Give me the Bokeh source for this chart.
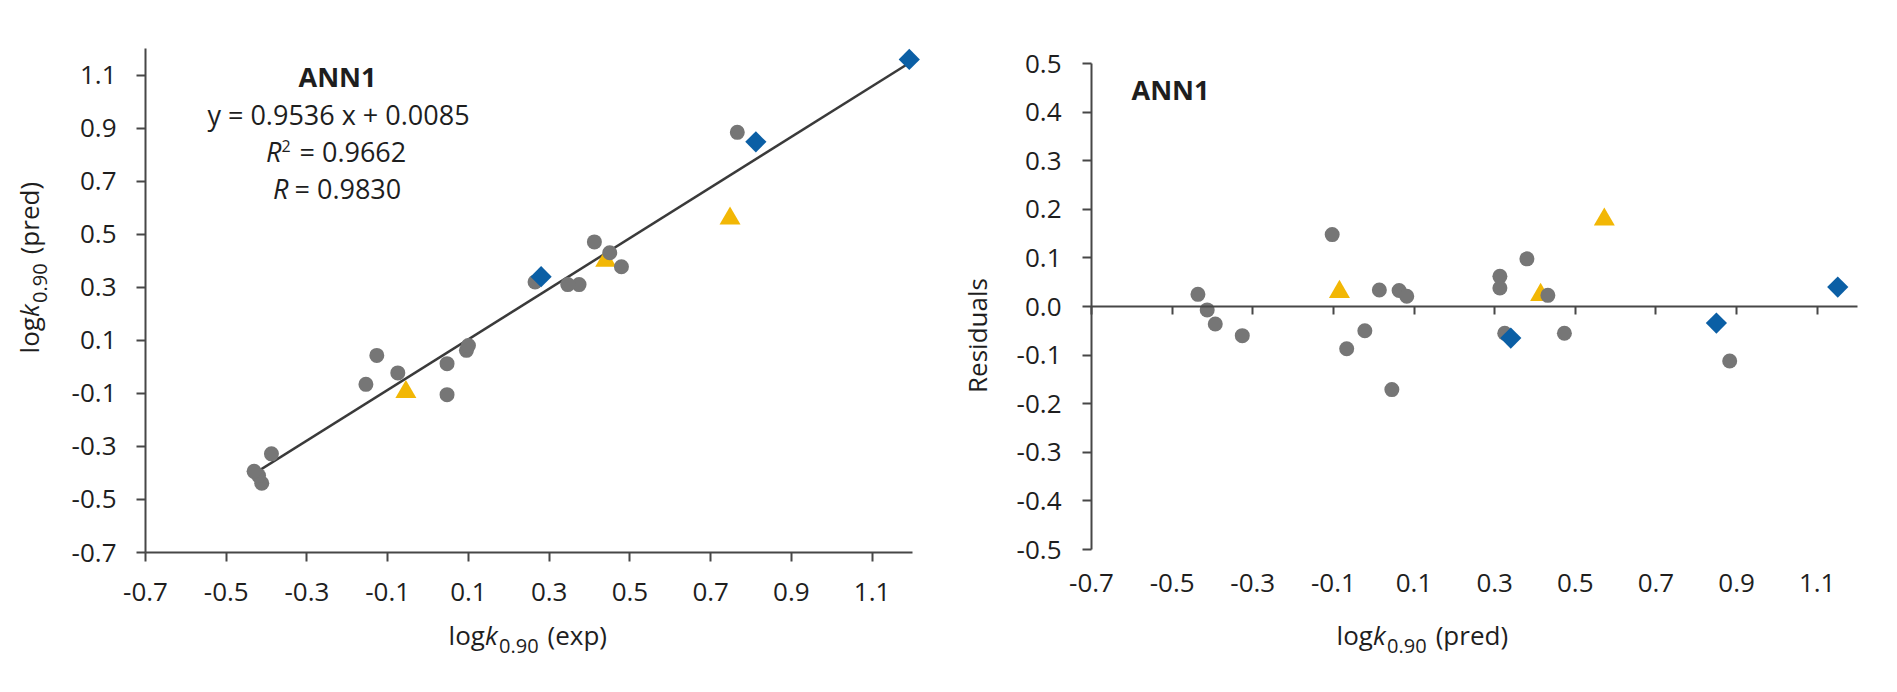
import math
from bokeh.plotting import figure
from bokeh.models import (Range1d, FixedTicker, PrintfTickFormatter, LinearAxis, Label,
                          CustomJSTickFormatter)
from bokeh.layouts import row
from bokeh.embed import file_html
from bokeh.resources import INLINE

# ---------------- data ----------------
x_ticks = [-0.7, -0.5, -0.3, -0.1, 0.1, 0.3, 0.5, 0.7, 0.9, 1.1]
pred_ticks = [-0.7, -0.5, -0.3, -0.1, 0.1, 0.3, 0.5, 0.7, 0.9, 1.1]
resid_ticks = [-0.5, -0.4, -0.3, -0.2, -0.1, 0.0, 0.1, 0.2, 0.3, 0.4, 0.5]

# left panel: experimental vs predicted logk0.90
grey_exp = [-0.412, -0.42, -0.431, -0.388, 0.047, -0.154, -0.075, 0.047, 0.095, 0.10,
            -0.127, 0.374, 0.346, 0.479, 0.45, 0.265, 0.412, 0.766]
grey_pred = [-0.439, -0.41, -0.394, -0.328, -0.105, -0.066, -0.023, 0.012, 0.062, 0.08,
             0.043, 0.31, 0.31, 0.377, 0.43, 0.32, 0.471, 0.884]
yellow_exp = [-0.055, 0.44, 0.748]
yellow_pred = [-0.095, 0.40, 0.559]
blue_exp = [0.28, 0.812, 1.192]
blue_pred = [0.34, 0.848, 1.159]

fit_slope = 0.9536
fit_intercept = 0.0085
fit_r2 = 0.9662
fit_r = 0.9830
fit_x = [-0.43, 1.19]

# right panel: predicted vs residuals
res_grey_pred = [-0.436, -0.413, -0.393, -0.326, -0.103, -0.067, -0.022, 0.014, 0.063, 0.082,
                 0.045, 0.313, 0.313, 0.38, 0.432, 0.325, 0.473, 0.883]
res_grey_val = [0.025, -0.007, -0.036, -0.060, 0.148, -0.087, -0.050, 0.034, 0.033, 0.021,
                -0.171, 0.062, 0.038, 0.098, 0.023, -0.055, -0.055, -0.112]
res_yellow_pred = [-0.085, 0.414, 0.572]
res_yellow_val = [0.030, 0.024, 0.179]
res_blue_pred = [0.34, 0.85, 1.151]
res_blue_val = [-0.065, -0.034, 0.040]

panel_title = "ANN1"

# ---------------- style ----------------
FONT = "Open Sans"
TXT = "#1e1e1e"
AX = "#474747"
GREY = "#767676"
BLUE = "#0B5FA5"
YELLOW = "#F2B705"
TICK_FS = "26px"
H = 670
PAGE_TOP = 0


def make_map(fx0, fx1, xd0, xd1, fy0, fy1, yd0, yd1):
    """page-pixel -> data mapping; (fx0..fx1, fy0..fy1) is the plotting area in page px."""
    def f(px, py):
        x = xd0 + (px - fx0) / (fx1 - fx0) * (xd1 - xd0)
        y = yd1 - (py - fy0) / (fy1 - fy0) * (yd1 - yd0)
        return x, y
    return f


def new_fig(width, fmap, fig_left):
    x0, y1 = fmap(fig_left, PAGE_TOP)
    x1, y0 = fmap(fig_left + width, PAGE_TOP + H)
    p = figure(width=width, height=H, output_backend="svg", toolbar_location=None,
               x_range=Range1d(x0, x1), y_range=Range1d(y0, y1),
               x_axis_location=None, y_axis_location=None, min_border=0)
    p.title.visible = False
    p.outline_line_color = None
    p.grid.visible = False
    p.background_fill_color = "white"
    p.border_fill_color = "white"
    return p


def add_axis(p, side, loc, bounds, ticks, standoff, tick_out=9, show_line=True, show_labels=True):
    ax = LinearAxis(fixed_location=loc, bounds=bounds)
    ax.ticker = FixedTicker(ticks=ticks)
    if show_labels:
        ax.formatter = PrintfTickFormatter(format="%.1f")
    else:
        ax.formatter = CustomJSTickFormatter(code="return ''")
    ax.axis_line_color = AX if show_line else None
    ax.axis_line_width = 2
    ax.major_tick_line_color = AX if tick_out > 0 else None
    ax.major_tick_line_width = 2
    ax.major_tick_out = tick_out
    ax.major_tick_in = 0
    ax.minor_tick_line_color = None
    ax.major_label_text_font = FONT
    ax.major_label_text_font_size = TICK_FS
    ax.major_label_text_color = TXT
    ax.major_label_standoff = standoff
    p.add_layout(ax, side)
    return ax


def put(p, fmap, px, py, text, size=26, style="normal", align="left", angle=0.0):
    # empirical correction: the rendered baseline sits ~0.4 em below the anchor
    off = 0.4 * size
    if angle == 0.0:
        py -= off
    else:
        px -= off
    x, y = fmap(px, py)
    p.add_layout(Label(x=x, y=y, text=text, text_font=FONT, text_font_size=f"{size}px",
                       text_font_style=style, text_color=TXT, text_align=align,
                       text_baseline="alphabetic", angle=angle))


A = math.pi / 2

# ---------------- left panel ----------------
W1 = 960
L0 = 0
lmap = make_map(145, 912, -0.7, 1.2, 48, 552, -0.7, 1.2)
p1 = new_fig(W1, lmap, L0)
add_axis(p1, "below", -0.7, (-0.7, 1.2), x_ticks, standoff=21)
add_axis(p1, "left", -0.7, (-0.7, 1.2), pred_ticks, standoff=20)

fit_y = [fit_slope * v + fit_intercept for v in fit_x]
p1.line(fit_x, fit_y, line_color="#3a3a3a", line_width=2.5)
p1.scatter(yellow_exp, yellow_pred, marker="triangle", size=21, fill_color=YELLOW, line_color=None)
p1.scatter(grey_exp, grey_pred, marker="circle", size=15, fill_color=GREY, line_color=None)
p1.scatter(blue_exp, blue_pred, marker="square", angle=math.pi / 4, size=15,
           fill_color=BLUE, line_color=None)

put(p1, lmap, 337, 86.5, panel_title, 27, "bold", "center")
put(p1, lmap, 338, 125, f"y = {fit_slope:.4f} x + {fit_intercept:.4f}", 27, "normal", "center")
put(p1, lmap, 281, 161.7, "R", 27, "italic", "right")
put(p1, lmap, 281, 151.5, "2", 16, "normal", "left")
put(p1, lmap, 299, 161.7, f"= {fit_r2:.4f}", 27, "normal", "left")
put(p1, lmap, 288, 198.3, "R", 27, "italic", "right")
put(p1, lmap, 294, 198.3, f"= {fit_r:.4f}", 27, "normal", "left")

# x-axis title: logk0.90 (exp)
put(p1, lmap, 484.4, 645, "log", 26, "normal", "right")
put(p1, lmap, 484.4, 645, "k", 26, "italic", "left")
put(p1, lmap, 498.6, 653, "0.90", 20, "normal", "left")
put(p1, lmap, 547, 645, "(exp)", 26, "normal", "left")
# y-axis title (rotated): logk0.90 (pred)
put(p1, lmap, 39, 316.6, "log", 26, "normal", "right", A)
put(p1, lmap, 39, 316.6, "k", 26, "italic", "left", A)
put(p1, lmap, 47, 302.4, "0.90", 20, "normal", "left", A)
put(p1, lmap, 39, 253.8, "(pred)", 26, "normal", "left", A)

# ---------------- right panel ----------------
W2 = 930
R0 = L0 + W1
rmap = make_map(1091, 1857, -0.7, 1.2, 63, 549, -0.5, 0.5)
p2 = new_fig(W2, rmap, R0)
add_axis(p2, "below", -0.5, (-0.7, 1.2), x_ticks, standoff=24, tick_out=0, show_line=False)
add_axis(p2, "left", -0.7, (-0.5, 0.5), resid_ticks, standoff=21)
add_axis(p2, "below", 0.0, (-0.7, 1.2), x_ticks, standoff=5, tick_out=8, show_labels=False)

p2.scatter(res_yellow_pred, res_yellow_val, marker="triangle", size=21, fill_color=YELLOW, line_color=None)
p2.scatter(res_grey_pred, res_grey_val, marker="circle", size=15, fill_color=GREY, line_color=None)
p2.scatter(res_blue_pred, res_blue_val, marker="square", angle=math.pi / 4, size=15,
           fill_color=BLUE, line_color=None)

put(p2, rmap, 1131, 100, panel_title, 27, "bold", "left")
# x-axis title: logk0.90 (pred)
put(p2, rmap, 1372.4, 645, "log", 26, "normal", "right")
put(p2, rmap, 1372.4, 645, "k", 26, "italic", "left")
put(p2, rmap, 1386.6, 653, "0.90", 20, "normal", "left")
put(p2, rmap, 1435.2, 645, "(pred)", 26, "normal", "left")
# y-axis title
put(p2, rmap, 987, 335, "Residuals", 26, "normal", "center", A)

layout = row(p1, p2)
open("out.html", "w").write(file_html(layout, INLINE))
